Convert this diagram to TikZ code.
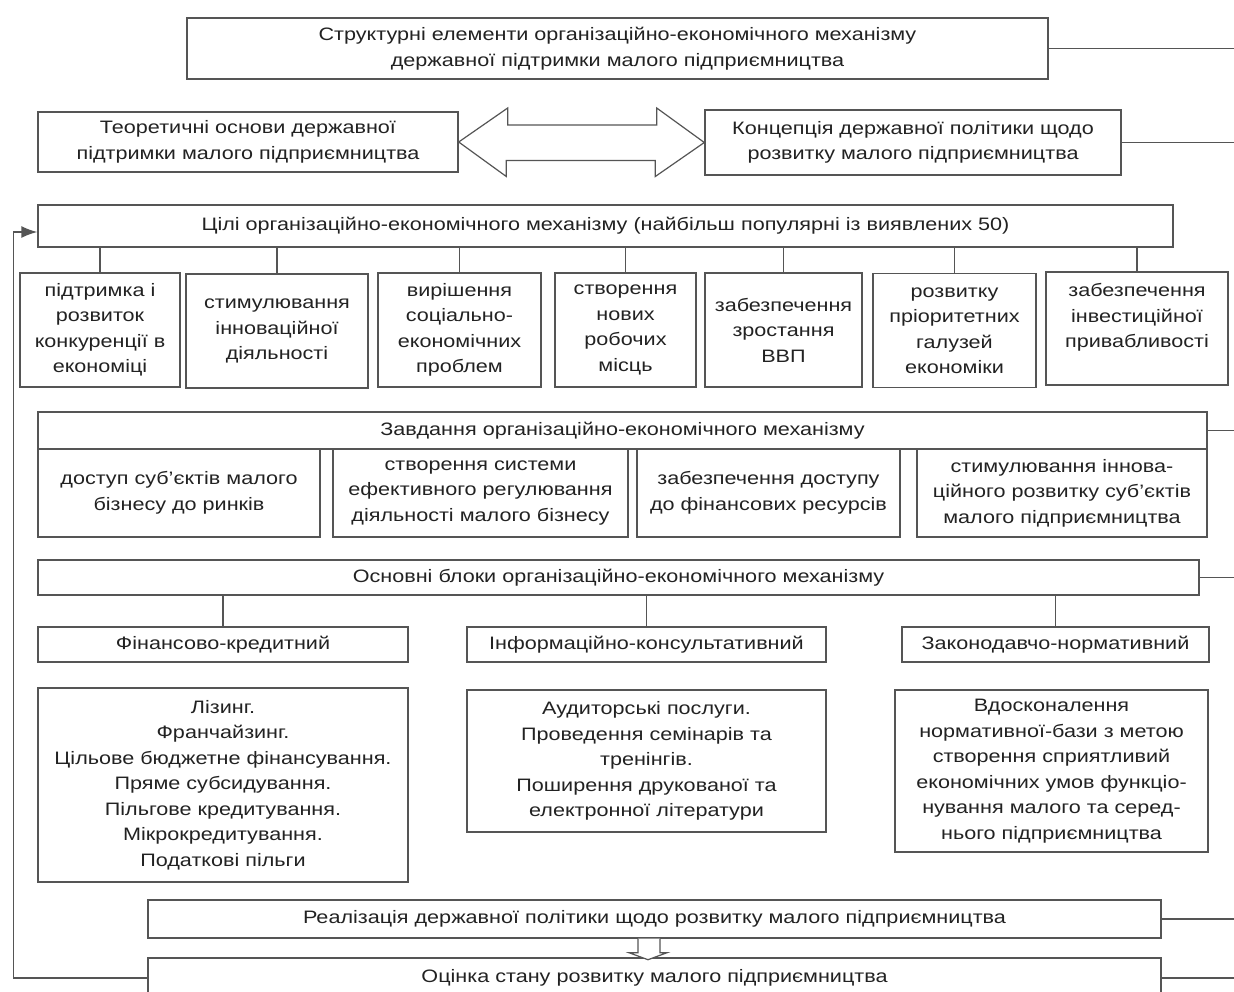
\documentclass[tikz,border=0pt]{standalone}
\usepackage{fontspec}
\setmainfont[FakeStretch=1.2]{Liberation Sans}
\usetikzlibrary{arrows.meta,calc}
\definecolor{ln}{HTML}{555555}
\definecolor{tx}{HTML}{222222}
\tikzset{
  box/.style={draw=ln, line width=1.4pt, fill=white, rectangle, inner sep=0pt, align=center, text=tx, font=\fontsize{18}{25.5}\selectfont},
  conn/.style={draw=ln, line width=1.4pt},
}
\begin{document}
\begin{tikzpicture}[x=1pt,y=-1pt]
\fill[white] (0,0) rectangle (1234,991);
\useasboundingbox (0,0) rectangle (1234,991);
\coordinate (edge) at (1234,0);

% title
\node[box, minimum width=861pt, minimum height=61pt] (title) at (617.5,48.5) {Структурні елементи організаційно-економічного механізму\\державної підтримки малого підприємництва};
\node[box, minimum width=420pt, minimum height=60pt] (theo) at (248,142) {Теоретичні основи державної\\підтримки малого підприємництва};
\node[box, minimum width=416pt, minimum height=65pt] (conc) at (913,142.5) {Концепція державної політики щодо\\розвитку малого підприємництва};

% double arrow
\draw[conn, line width=1.2pt, fill=white] (theo.east) -- ++(49,-34) -- ++(0,17) -- ++(149,0) -- ++(0,-17) -- (conc.west) -- ++(-49,34) -- ++(0,-16) -- ++(-149,0) -- ++(0,16) -- cycle;

% goals
\node[box, minimum width=1135pt, minimum height=42pt] (goals) at (605.5,226) {Цілі організаційно-економічного механізму (найбільш популярні із виявлених 50)};
\node[box, minimum width=160pt, minimum height=114pt] (g1) at (100,330) {підтримка і\\розвиток\\конкуренції в\\економіці};
\node[box, minimum width=182pt, minimum height=114pt] (g2) at (277,331) {стимулювання\\інноваційної\\діяльності};
\node[box, minimum width=163pt, minimum height=114pt] (g3) at (459.5,330) {вирішення\\соціально-\\економічних\\проблем};
\node[box, minimum width=141pt, minimum height=114pt] (g4) at (625.5,330) {створення\\нових\\робочих\\місць};
\node[box, minimum width=157pt, minimum height=114pt] (g5) at (783.5,330) {забезпечення\\зростання\\ВВП};
\node[box, minimum width=163pt, minimum height=114pt] (g6) at (954.5,330.5) {розвитку\\пріоритетних\\галузей\\економіки};
\node[box, minimum width=182pt, minimum height=113pt] (g7) at (1137,328.5) {забезпечення\\інвестиційної\\привабливості\\\mbox{}};
\foreach \g in {g1,g2,g3,g4,g5,g6,g7}{
  \draw[conn] (\g.north) -- (\g.north |- goals.south);
}

% tasks
\node[box, minimum width=1169pt, minimum height=37pt] (tasks) at (622.5,430.5) {Завдання організаційно-економічного механізму};
\node[box, minimum width=282pt, minimum height=88pt] (t1) at (179,493) {доступ суб’єктів малого\\бізнесу до ринків};
\node[box, minimum width=295pt, minimum height=88pt] (t2) at (480.5,493) {створення системи\\ефективного регулювання\\діяльності малого бізнесу};
\node[box, minimum width=263pt, minimum height=88pt] (t3) at (768.5,493) {забезпечення доступу\\до фінансових ресурсів};
\node[box, minimum width=290pt, minimum height=88pt] (t4) at (1062,493) {стимулювання іннова-\\ційного розвитку суб’єктів\\малого підприємництва};

% blocks
\node[box, minimum width=1161pt, minimum height=35pt] (blocks) at (618.5,577.5) {Основні блоки організаційно-економічного механізму};
\node[box, minimum width=370pt, minimum height=35pt] (fin) at (223,644.5) {Фінансово-кредитний};
\node[box, minimum width=359pt, minimum height=35pt] (inf) at (646.5,644.5) {Інформаційно-консультативний};
\node[box, minimum width=307pt, minimum height=35pt] (zak) at (1055.5,644.5) {Законодавчо-нормативний};
\foreach \b in {fin,inf,zak}{
  \draw[conn] (\b.north) -- (\b.north |- blocks.south);
}
\node[box, minimum width=370pt, minimum height=194pt] (finc) at (223,785) {Лізинг.\\Франчайзинг.\\Цільове бюджетне фінансування.\\Пряме субсидування.\\Пільгове кредитування.\\Мікрокредитування.\\Податкові пільги};
\node[box, minimum width=359pt, minimum height=142pt] (infc) at (646.5,761) {Аудиторські послуги.\\Проведення семінарів та\\тренінгів.\\Поширення друкованої та\\електронної літератури};
\node[box, minimum width=313pt, minimum height=162pt] (zakc) at (1051.5,771) {Вдосконалення\\нормативної-бази з метою\\створення сприятливий\\економічних умов функціо-\\нування малого та серед-\\нього підприємництва};

% bottom
\node[box, minimum width=1013pt, minimum height=38pt] (real) at (654.5,919) {Реалізація державної політики щодо розвитку малого підприємництва};
\node[box, minimum width=1013pt, minimum height=40pt] (ocin) at (654.5,978) {Оцінка стану розвитку малого підприємництва};

% small down arrow
\coordinate (ra) at ($(real.south)+(-16.5,0)$);
\draw[conn, line width=1.2pt, fill=white] (ra) -- ++(0,14) -- ++(-9,0) -- ++(19,7) -- ++(19,-7) -- ++(-7,0) -- ++(0,-14);

% feedback
\draw[conn, -{Latex[length=16pt,width=12pt]}] (ocin.west) -- ++(-134,0) |- ([yshift=-6pt]goals.west);

% right edge lines
\foreach \n in {title,conc,tasks,blocks,real,ocin}{
  \draw[conn] (\n.east) -- (\n.east -| edge);
}
\end{tikzpicture}
\end{document}
